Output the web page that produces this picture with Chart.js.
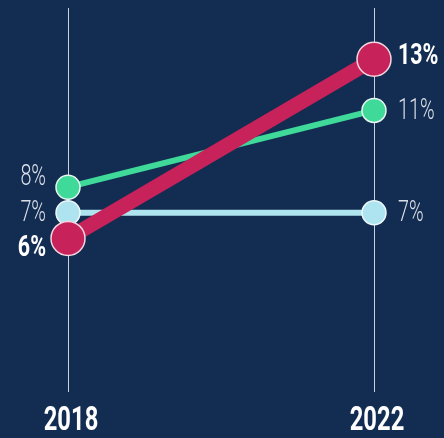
<!DOCTYPE html>
<html lang="en">
<head>
    <meta charset="UTF-8">
    <title>Slope chart 2018-2022</title>
    <script src="https://cdn.jsdelivr.net/npm/chart.js"></script>
    <style>
        html, body {
            margin: 0;
            padding: 0;
            background: #132d52;
        }
        .wrap {
            width: 444px;
            height: 438px;
        }
    </style>
</head>
<body>
    <div class="wrap">
        <canvas id="myChart" width="444" height="438"></canvas>
    </div>

    <script>
        // data
        var years = ['2018', '2022'];
        var greenValues = [8, 11];
        var blueValues = [7, 7];
        var redValues = [6, 13];
        // which series gets bold labels
        var boldSeries = [false, false, true];
        // left label nudge (px) so the stacked labels don't overlap
        var leftNudge = [-11, 0, 9];

        var FONT = '"Roboto", sans-serif';

        // no condensed font installed, so squeeze the text horizontally
        function narrowText(ctx, txt, x, y, sx) {
            ctx.save();
            ctx.translate(x, y);
            ctx.scale(sx, 1);
            ctx.fillText(txt, 0, 0);
            ctx.restore();
        }

        // % labels next to the end points + year labels under the lines
        var endLabels = {
            id: 'endLabels',
            afterDatasetsDraw: function (chart) {
                var ctx = chart.ctx;
                ctx.save();
                ctx.textBaseline = 'middle';
                chart.data.datasets.forEach(function (ds, i) {
                    var meta = chart.getDatasetMeta(i);
                    var bold = boldSeries[i];
                    ctx.font = (bold ? 'bold 29px ' : '300 30px ') + FONT;
                    ctx.fillStyle = bold ? '#ffffff' : '#d9dee7';
                    var sx = bold ? 0.74 : 0.66;
                    meta.data.forEach(function (pt, j) {
                        var txt = ds.data[j] + '%';
                        if (j === 0) {
                            ctx.textAlign = 'right';
                            narrowText(ctx, txt, pt.x - 22, pt.y + leftNudge[i] + 1, sx);
                        } else {
                            ctx.textAlign = 'left';
                            narrowText(ctx, txt, pt.x + 24, pt.y + (bold ? -2 : 1), sx);
                        }
                    });
                });

                var xs = chart.scales.x;
                ctx.font = 'bold 33px ' + FONT;
                ctx.fillStyle = '#ffffff';
                ctx.textAlign = 'center';
                years.forEach(function (yr, k) {
                    narrowText(ctx, yr, xs.getPixelForValue(k) + 3, 422, 0.72);
                });
                ctx.restore();
            }
        };

        var ctx = document.getElementById('myChart').getContext('2d');
        var myChart = new Chart(ctx, {
            type: 'line',
            data: {
                labels: years,
                datasets: [{
                    label: 'Green',
                    data: greenValues,
                    borderColor: '#3fd99a',
                    backgroundColor: '#3fd99a',
                    borderWidth: 6,
                    pointRadius: 12,
                    pointBorderColor: '#e8f6f0',
                    pointBorderWidth: 1.5,
                    order: 3
                }, {
                    label: 'Light blue',
                    data: blueValues,
                    borderColor: '#aee4ef',
                    backgroundColor: '#aee4ef',
                    borderWidth: 6,
                    pointRadius: 12,
                    pointBorderColor: '#eef8fb',
                    pointBorderWidth: 1.5,
                    order: 2
                }, {
                    label: 'Red',
                    data: redValues,
                    borderColor: '#c8225a',
                    backgroundColor: '#c8225a',
                    borderWidth: 15,
                    pointRadius: 17,
                    pointBorderColor: '#f2d6e0',
                    pointBorderWidth: 1.5,
                    order: 1
                }]
            },
            options: {
                responsive: false,
                animation: false,
                layout: {
                    autoPadding: false,
                    padding: { left: 68, right: 70, top: 8, bottom: 46 }
                },
                plugins: {
                    legend: { display: false },
                    tooltip: { enabled: false }
                },
                scales: {
                    x: {
                        offset: false,
                        grid: {
                            color: '#c9d1dd',
                            lineWidth: 1,
                            drawTicks: false
                        },
                        border: { display: false },
                        ticks: { display: false }
                    },
                    y: {
                        display: false,
                        min: 0,
                        max: 15
                    }
                }
            },
            plugins: [endLabels]
        });
    </script>
</body>
</html>
